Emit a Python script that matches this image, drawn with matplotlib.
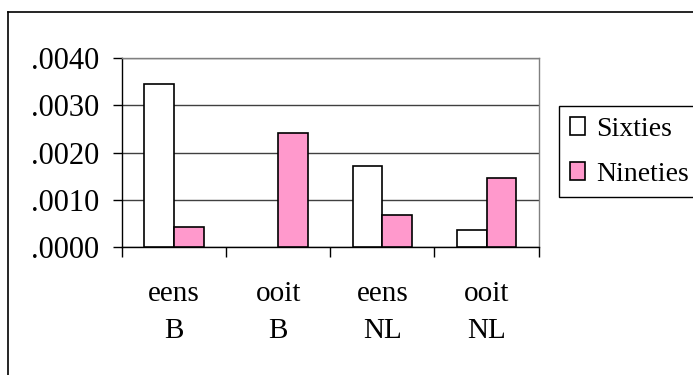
import numpy as np
import matplotlib
matplotlib.use("Agg")
import matplotlib.pyplot as plt
from matplotlib.lines import Line2D
from matplotlib.patches import Patch

plt.rcParams["font.family"] = ["Liberation Serif", "DejaVu Serif"]

# ── Данные ─────────────────────────────────────────────────────────────────────
categories = ["eens\nB", "ooit\nB", "eens\nNL", "ooit\nNL"]
sixties = [0.00345, 0.0, 0.00171, 0.00036]
nineties = [0.00043, 0.00241, 0.00068, 0.00147]
yticks = [0.0, 0.001, 0.002, 0.003, 0.004]
ytick_labels = [".0000", ".0010", ".0020", ".0030", ".0040"]

PINK = "#FF99CC"
W, H = 693, 375

fig = plt.figure(figsize=(W / 100, H / 100), dpi=100)
ax = fig.add_axes([121.7 / W, 1 - 247.3 / H, 417 / W, 189.3 / H])

x = np.arange(len(categories))
bw = 0.286
# нулевые столбцы в Excel не рисуются вовсе — убираем им обводку
lw6 = [1.2 if v > 0 else 0 for v in sixties]
lw9 = [1.2 if v > 0 else 0 for v in nineties]
ax.bar(x - bw / 2, sixties, bw, color="white", edgecolor="black", linewidth=lw6,
       label="Sixties", zorder=3)
ax.bar(x + bw / 2, nineties, bw, color=PINK, edgecolor="black", linewidth=lw9,
       label="Nineties", zorder=3)

ax.set_xlim(-0.5, len(categories) - 0.5)
ax.set_ylim(0, 0.004)

# оси в стиле Excel
ax.set_yticks(yticks)
ax.set_yticklabels(ytick_labels)
ax.yaxis.grid(True, color="#404040", linewidth=1.0, zorder=0)
ax.tick_params(axis="y", direction="out", length=6.5, width=1.0, pad=10,
               labelsize=22)
ax.set_xticks(x)
ax.set_xticklabels(categories, linespacing=1.55)
ax.set_xticks(np.arange(-0.5, len(categories)), minor=True)
ax.tick_params(axis="x", which="major", length=0, pad=24, labelsize=21)
ax.tick_params(axis="x", which="minor", direction="out", length=7, width=1.0)

for side in ("left", "bottom"):
    ax.spines[side].set_color("black")
    ax.spines[side].set_linewidth(1.0)
for side in ("top", "right"):
    ax.spines[side].set_color("#808080")
    ax.spines[side].set_linewidth(1.0)
ax.set_axisbelow(True)

handles = [Patch(facecolor="white", edgecolor="black", linewidth=1.2, label="Sixties"),
           Patch(facecolor=PINK, edgecolor="black", linewidth=1.2, label="Nineties")]
leg = fig.legend(handles=handles, loc="upper left",
                 bbox_to_anchor=(559 / W, 1 - 106 / H), borderaxespad=0,
                 fontsize=20, frameon=True, fancybox=False, framealpha=1,
                 edgecolor="black", handlelength=0.55, handleheight=0.65,
                 handletextpad=0.42, borderpad=0.38, labelspacing=0.73)
leg.get_frame().set_linewidth(1.0)

# рамка вокруг всей диаграммы
fig.add_artist(Line2D([8 / W, 8 / W], [0, 1 - 12 / H], color="black", linewidth=1.2))
fig.add_artist(Line2D([8 / W, 1], [1 - 12 / H, 1 - 12 / H], color="black", linewidth=1.2))

fig.savefig("out.png", dpi=100)
